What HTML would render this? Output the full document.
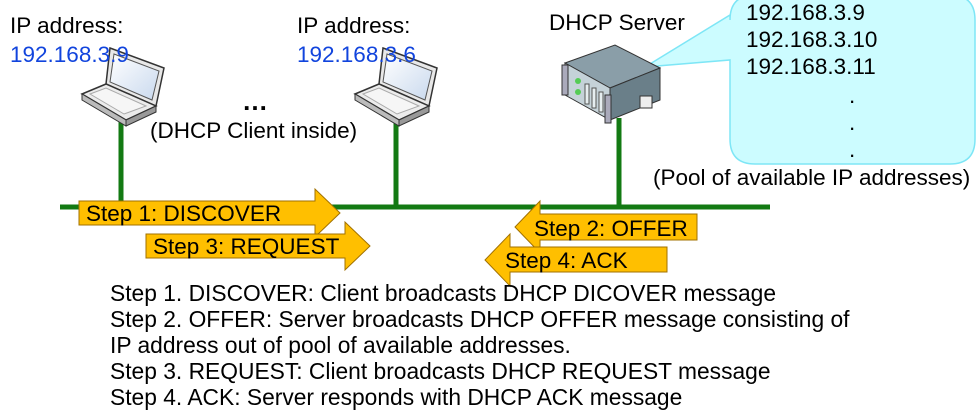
<!DOCTYPE html><html><head><style>
body{margin:0;width:978px;height:417px;background:#fff;overflow:hidden;font-family:"Liberation Sans",Arial,sans-serif}
svg{position:absolute;left:0;top:0}
</style></head><body>
<svg width="978" height="417" viewBox="0 0 978 417" font-family="Liberation Sans, Arial, sans-serif">
<defs>
<linearGradient id="scr" x1="0" y1="0" x2="1" y2="1"><stop offset="0" stop-color="#fff"/><stop offset="1" stop-color="#c9d9ee"/></linearGradient>
<g id="lap">
<polygon points="30,2 84,22 76,60 26,38" fill="#e8e8e8" stroke="#333" stroke-width="1.5"/>
<polygon points="34,8 79,25 72,54 30,36" fill="url(#scr)" stroke="#555" stroke-width="1"/>
<polygon points="2,48 26,38 76,60 46,74" fill="#ececec" stroke="#333" stroke-width="1.5"/>
<polygon points="10,48 26,42 66,60 44,68" fill="#f6f6f6" stroke="#aaa" stroke-width="1"/>
<polygon points="2,48 46,74 46,80 2,54" fill="#bbb" stroke="#333" stroke-width="1"/>
<polygon points="46,74 76,60 76,66 46,80" fill="#999" stroke="#333" stroke-width="1"/>
</g>
</defs>
<g stroke="#137a13" stroke-width="5">
<line x1="60" y1="207" x2="770" y2="207"/>
<line x1="121" y1="122" x2="121" y2="207"/>
<line x1="396" y1="122" x2="396" y2="207"/>
<line x1="619" y1="118" x2="619" y2="207"/>
</g>
<use href="#lap" x="80" y="46"/>
<use href="#lap" x="353" y="46"/>
<path d="M755,-5 H950 Q975,-5 975,20 V139 Q975,164 950,164 H755 Q730,164 730,139 V60 L645,67 L730,15 V20 Q730,-5 755,-5 Z" fill="#ccfcff" stroke="#7ee6f6" stroke-width="1.5"/>
<polygon points="565,63 615,45 660,68 610,88" fill="#8a9ea8" stroke="#333"/>
<polygon points="565,63 610,88 610,120 565,95" fill="#c5d2d8" stroke="#333"/>
<polygon points="610,88 660,68 660,100 610,120" fill="#6a7f89" stroke="#333"/>
<rect x="562" y="65" width="6" height="30" fill="#aab" stroke="#333"/>
<rect x="605" y="95" width="6" height="28" fill="#aab" stroke="#333"/>
<circle cx="578" cy="81" r="3" fill="#5c5"/><circle cx="578" cy="92" r="3" fill="#5c5"/>
<g stroke="#555" fill="#e6eef0"><rect x="585" y="84" width="4" height="20"/><rect x="592" y="88" width="4" height="20"/><rect x="599" y="92" width="4" height="20"/></g>
<rect x="640" y="96" width="12" height="12" fill="#eee" stroke="#333"/>
<g fill="#ffbf00" stroke="#a07000" stroke-width="1">
<polygon points="79,201 315,201 315,189 340,213 315,237 315,225 79,225"/>
<polygon points="146,234 345,234 345,222 370,246 345,270 345,258 146,258"/>
<polygon points="697,214 540,214 540,201 515,227 540,253 540,240 697,240"/>
<polygon points="667,247 510,247 510,234 485,260 510,286 510,272 667,272"/>
</g>
<g font-size="22.5" fill="#000">
<text x="86" y="221">Step 1: DISCOVER</text>
<text x="153" y="254">Step 3: REQUEST</text>
<text x="534" y="236">Step 2: OFFER</text>
<text x="505" y="268">Step 4: ACK</text>
<text x="10" y="33">IP address:</text>
<text x="10" y="62" fill="#1144dd">192.168.3.9</text>
<text x="297" y="33">IP address:</text>
<text x="297" y="62" fill="#1144dd">192.168.3.6</text>
<text x="242" y="110" font-size="26" font-weight="bold">…</text>
<text x="150" y="138">(DHCP Client inside)</text>
<text x="549" y="30">DHCP Server</text>
<text x="746" y="20">192.168.3.9</text>
<text x="746" y="47">192.168.3.10</text>
<text x="746" y="74">192.168.3.11</text>
<text x="849" y="103">.</text><text x="849" y="130">.</text><text x="849" y="157">.</text>
<text x="653" y="185">(Pool of available IP addresses)</text>
</g>
<g font-size="22.8" fill="#000">
<text x="110" y="301">Step 1. DISCOVER: Client broadcasts DHCP DICOVER message</text>
<text x="110" y="327">Step 2. OFFER: Server broadcasts DHCP OFFER message consisting of</text>
<text x="110" y="353">IP address out of pool of available addresses.</text>
<text x="110" y="379">Step 3. REQUEST: Client broadcasts DHCP REQUEST message</text>
<text x="110" y="405">Step 4. ACK: Server responds with DHCP ACK message</text>
</g>
</svg>
</body></html>
